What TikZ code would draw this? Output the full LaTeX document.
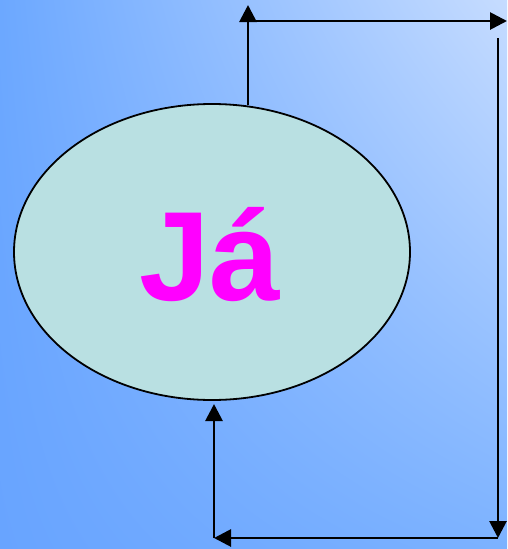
\documentclass[tikz,border=0pt]{standalone}
\usepackage{fontspec}
\setmainfont{Liberation Sans}
\usetikzlibrary{arrows.meta,shadings,shapes.geometric}
\definecolor{bgul}{RGB}{108,168,255}
\definecolor{bgur}{RGB}{198,220,255}
\definecolor{bgll}{RGB}{104,164,255}
\definecolor{bglr}{RGB}{124,178,255}
\definecolor{ellfill}{RGB}{185,224,226}
\definecolor{txtmag}{RGB}{255,0,255}
\tikzset{
  conn/.style={line width=2.8pt, black},
  tip/.style={-{Triangle[width=17pt,length=17pt]}},
}
\begin{document}
\begin{tikzpicture}[x=1pt,y=-1pt]
\useasboundingbox (0,0) rectangle (507,549);
\shade[upper left=bgul, upper right=bgur, lower left=bgll, lower right=bglr] (0,0) rectangle (507,549);
\node (e) [ellipse, draw=black, line width=1.8pt, fill=ellfill, minimum width=396pt, minimum height=296pt, inner sep=0pt] at (212,252) {};
\node (t) [text=txtmag, font=\fontsize{127}{127}\selectfont\bfseries, inner sep=0pt, anchor=base] at (210,300) {Já};
\coordinate (a1s) at (248,105);
\coordinate (a1e) at (248,5);
\coordinate (a2s) at (248,21);
\coordinate (a2e) at (507,21);
\coordinate (a3s) at (498,38);
\coordinate (a3e) at (498,538);
\coordinate (a4s) at (498,538);
\coordinate (a4e) at (214,538);
\coordinate (a5s) at (214,538);
\coordinate (a5e) at (214,404);
\draw[conn,tip] (a1s) -- (a1e);
\draw[conn,tip] (a2s) -- (a2e);
\draw[conn,tip] (a3s) -- (a3e);
\draw[conn,tip] (a4s) -- (a4e);
\draw[conn,tip] (a5s) -- (a5e);
\end{tikzpicture}
\end{document}
